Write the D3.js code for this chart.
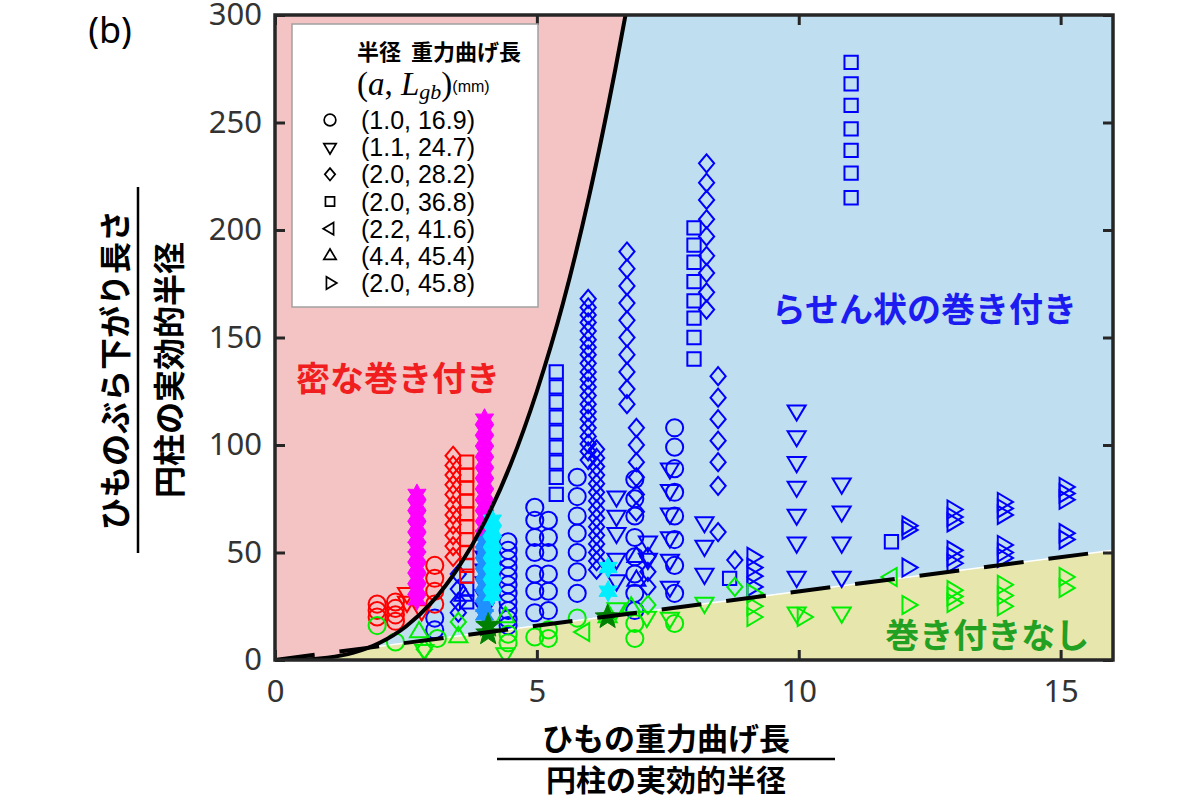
<!DOCTYPE html>
<html>
<head>
<meta charset="utf-8">
<script src="https://cdn.jsdelivr.net/npm/d3@7.9.0/dist/d3.min.js"></script>
<style>
  body { margin: 0; background: #fff; }
  svg { display: block; }
</style>
</head>
<body>
<svg id="chart" width="1200" height="800"></svg>
<script>
// ---- data ----
const xTicks = [0, 5, 10, 15];
const yTicks = [0, 50, 100, 150, 200, 250, 300];

// boundary curves
const tightCurve = [[0, 0], [0.5, 0.1], [1, 1], [1.5, 3.4], [2, 8], [2.5, 15.6], [3, 27], [3.5, 43],
  [4, 64], [4.5, 91], [5, 125], [5.5, 166], [6, 216], [6.5, 275], [6.8, 314]];
const noWrapLine = [[0, 0], [16, 51]];

// columns of points: [x, [y, y, ...]]
const redCircles = [[1.95, [26, 23, 20]], [2.3, [27, 24, 21, 18]], [3.05, [44, 38, 32, 26]]];
const redTriDown = [[2.52, [31, 27]], [2.8, [23]]];
const redDiamonds = [[3.4, [95, 90.5, 86, 81.5, 77, 72, 67.5, 63, 58, 53, 48]]];
const redSquares = [[3.66, [92, 86, 80, 74, 68, 62, 56, 50, 44, 39]]];
const magentaStars = [[2.71, [77, 72, 67, 62, 57, 52.5, 48, 43, 38, 33, 28]],
  [4.0, [112, 107, 102, 97, 92, 87, 82, 77, 72, 67, 62, 58]]];
const dodgerStars = [[4.0, [55, 50, 45, 40, 35, 30, 25, 21]]];
const cyanStars = [[4.15, [65, 60, 55, 50, 45, 40, 35, 30]], [6.36, [43, 32]]];
const darkGreenStars = [[4.07, [12.5, 16]], [6.35, [20]]];

const blueCircles = [[3.05, [19.5, 14]],
  [4.45, [55, 51, 47, 43, 39, 35, 31, 27, 23, 19, 16]],
  [4.96, [71, 65, 57, 50, 40, 32, 22]],
  [5.22, [65, 57, 50, 40, 32, 23]],
  [5.77, [85, 76, 67, 59, 50, 41, 31]],
  [6.87, [84, 75, 67, 57, 48, 40, 31, 23]],
  [7.63, [108, 99, 89, 78, 67, 56, 44, 31]]];
const blueTriDown = [[4.0, [48, 42, 36, 30, 24]],
  [6.52, [76, 67, 59, 47, 37]],
  [7.12, [55, 47]],
  [7.54, [89, 79, 68, 57, 46.5, 34]],
  [8.2, [64, 53, 40]],
  [9.96, [116, 104, 92, 80.5, 67.5, 54.5, 38.6]],
  [10.82, [82, 69, 54.5, 38.6]]];
const blueDiamonds = [[3.5, [40, 33, 27, 22]],
  [5.98, [168, 164, 160.5, 157, 153, 149, 145.5, 142, 138, 134, 130.5, 127, 123, 119, 115.5, 112, 108, 104, 100.5, 97, 93]],
  [6.14, [98, 94, 90, 86, 82, 78, 74, 70, 66, 62, 58, 54, 50, 46, 42]],
  [6.72, [190, 182, 174, 166, 158, 150, 142, 134, 126, 119]],
  [6.9, [108, 100, 92, 85, 77, 69]],
  [7.12, [48, 41, 34]],
  [8.24, [231, 222, 214, 205, 197, 188, 180, 171, 163]],
  [8.46, [132, 122, 112, 102, 92, 81, 59.5]],
  [8.78, [46.5]]];
const blueSquares = [[3.66, [33, 27]],
  [5.37, [134, 127, 120, 113, 106, 99, 92, 85, 77]],
  [8.0, [201, 193, 185, 176, 167, 159, 150, 140]],
  [8.68, [38]],
  [11.0, [278, 268, 258, 247, 237, 226.5, 215]],
  [11.77, [55]]];
const blueTriUp = [[6.9, [48, 37]], [3.6, [30]]];
const blueTriRight = [[9.12, [48, 43, 39, 34]],
  [12.08, [62.5, 60.5, 43]],
  [12.94, [70, 66.5, 64, 51, 48, 45]],
  [13.9, [73.5, 70.5, 67.5, 53.5, 50, 47.5]],
  [15.08, [80.5, 77.5, 74.5, 59, 56]]];

const greenCircles = [[1.95, [16]], [2.3, [8.4]], [3.1, [10]], [4.45, [8, 12]],
  [4.96, [10.7]], [5.22, [10, 14]], [5.77, [19.5]], [6.87, [17, 10]], [7.63, [17]]];
const greenTriDown = [[2.85, [4.6]], [4.4, [3]], [6.52, [24]], [7.1, [20]], [7.54, [19.5]],
  [8.2, [26.5]], [9.96, [22]], [10.82, [22]]];
const greenTriUp = [[2.75, [13]], [3.5, [10.7]], [4.4, [20]], [6.35, [20]], [6.8, [24.6]]];
const greenDiamonds = [[2.85, [5]], [3.5, [17.7]], [7.12, [25.6]], [8.78, [34]]];
const greenTriLeft = [[5.9, [13]], [11.77, [38.6]]];
const greenTriRight = [[9.12, [31, 25, 20]], [10.08, [20]], [12.08, [25.6]],
  [12.94, [32.5, 29.5, 26.5]], [13.9, [35, 30, 25]], [15.08, [38.6, 33.5]]];

const legendShapes = ['circle', 'triDown', 'diamond', 'square', 'triLeft', 'triUp', 'triRight'];
const legendLabels = ['(1.0, 16.9)', '(1.1, 24.7)', '(2.0, 28.2)', '(2.0, 36.8)',
  '(2.2, 41.6)', '(4.4, 45.4)', '(2.0, 45.8)'];

// ---- styling ----
const RED = '#ff0000', BLUE = '#0000ff', GREEN = '#00ee00';
const series = [
  { cols: blueCircles, shape: 'circle', color: BLUE },
  { cols: blueTriDown, shape: 'triDown', color: BLUE },
  { cols: blueDiamonds, shape: 'diamond', color: BLUE },
  { cols: blueSquares, shape: 'square', color: BLUE },
  { cols: blueTriUp, shape: 'triUp', color: BLUE },
  { cols: blueTriRight, shape: 'triRight', color: BLUE },
  { cols: redCircles, shape: 'circle', color: RED },
  { cols: redTriDown, shape: 'triDown', color: RED },
  { cols: redDiamonds, shape: 'diamond', color: RED },
  { cols: redSquares, shape: 'square', color: RED },
  { cols: greenCircles, shape: 'circle', color: GREEN },
  { cols: greenTriDown, shape: 'triDown', color: GREEN },
  { cols: greenTriUp, shape: 'triUp', color: GREEN },
  { cols: greenDiamonds, shape: 'diamond', color: GREEN },
  { cols: greenTriLeft, shape: 'triLeft', color: GREEN },
  { cols: greenTriRight, shape: 'triRight', color: GREEN },
  { cols: magentaStars, shape: 'hexagram', color: '#ff00ff', filled: true, r: 10.5 },
  { cols: dodgerStars, shape: 'hexagram', color: '#1e90ff', filled: true, r: 10.5 },
  { cols: cyanStars, shape: 'hexagram', color: '#00eeff', filled: true, r: 10.5 },
  { cols: darkGreenStars, shape: 'pentagram', color: '#008000', filled: true, r: 13 }
];

const jp = '"Noto Sans CJK JP", "Noto Sans", sans-serif';
const svg = d3.select('#chart');
const x = d3.scaleLinear().domain([0, 16]).range([275, 1113]);
const y = d3.scaleLinear().domain([0, 300]).range([660, 15]);

function shapePath(name, r) {
  const p = d3.path();
  const poly = (pts) => {
    pts.forEach(([a, b], i) => (i ? p.lineTo(a * r, b * r) : p.moveTo(a * r, b * r)));
    p.closePath();
  };
  if (name === 'circle') { p.arc(0, 0, r * 0.9, 0, 2 * Math.PI); p.closePath(); }
  else if (name === 'square') poly([[-0.7, -0.7], [0.7, -0.7], [0.7, 0.7], [-0.7, 0.7]]);
  else if (name === 'diamond') poly([[0, -0.95], [0.8, 0], [0, 0.95], [-0.8, 0]]);
  else if (name === 'triDown') poly([[-0.95, -0.55], [0.95, -0.55], [0, 1.05]]);
  else if (name === 'triUp') poly([[-0.95, 0.55], [0.95, 0.55], [0, -1.05]]);
  else if (name === 'triLeft') poly([[0.55, -0.95], [0.55, 0.95], [-1.05, 0]]);
  else if (name === 'triRight') poly([[-0.55, -0.95], [-0.55, 0.95], [1.05, 0]]);
  else if (name === 'hexagram' || name === 'pentagram') {
    const n = name === 'hexagram' ? 6 : 5;
    const inner = name === 'hexagram' ? 0.55 : 0.42;
    const pts = d3.range(n * 2).map((i) => {
      const a = -Math.PI / 2 + (i * Math.PI) / n;
      const rr = i % 2 ? inner : 1;
      return [Math.cos(a) * rr, Math.sin(a) * rr];
    });
    poly(pts);
  }
  return p.toString();
}

const flat = (cols) => cols.flatMap(([cx, ys]) => ys.map((v) => [cx, v]));

// ---- plot background regions ----
svg.append('defs').append('clipPath').attr('id', 'plotclip')
  .append('rect').attr('x', x(0)).attr('y', y(300)).attr('width', x(16) - x(0)).attr('height', y(0) - y(300));

const bg = svg.append('g').attr('clip-path', 'url(#plotclip)');
bg.append('rect').attr('x', x(0)).attr('y', y(300)).attr('width', x(16) - x(0))
  .attr('height', y(0) - y(300)).attr('fill', '#bfdef0');

const lineGen = d3.line().x((d) => x(d[0])).y((d) => y(d[1]));
bg.append('path')
  .attr('d', lineGen(noWrapLine) + `L${x(16)},${y(0)}L${x(0)},${y(0)}Z`)
  .attr('fill', '#e6e6ad');
bg.append('path').attr('d', lineGen(noWrapLine)).attr('fill', 'none')
  .attr('stroke', '#fff').attr('stroke-width', 1.5);

const curveGen = d3.line().x((d) => x(d[0])).y((d) => y(d[1])).curve(d3.curveMonotoneX);
bg.append('path')
  .attr('d', curveGen(tightCurve) + `L${x(0)},${y(314)}Z`)
  .attr('fill', '#f4c4c4');

// ---- markers ----
const marks = svg.append('g').attr('clip-path', 'url(#plotclip)');
series.forEach((s) => {
  const d = shapePath(s.shape, s.r || 9.5);
  marks.append('g').selectAll('path').data(flat(s.cols)).join('path')
    .attr('transform', (p) => `translate(${x(p[0])},${y(p[1])})`)
    .attr('d', d)
    .attr('fill', s.filled ? s.color : 'none')
    .attr('stroke', s.color)
    .attr('stroke-width', s.filled ? 1 : 2);
});

// ---- boundary lines ----
const lines = svg.append('g').attr('clip-path', 'url(#plotclip)');
lines.append('path').attr('d', lineGen(noWrapLine)).attr('fill', 'none')
  .attr('stroke', '#000').attr('stroke-width', 4).attr('stroke-dasharray', '40,25');
lines.append('path').attr('d', curveGen(tightCurve)).attr('fill', 'none')
  .attr('stroke', '#000').attr('stroke-width', 4);

// ---- region labels ----
const regionLabels = [
  { text: '密な巻き付き', at: [2.35, 132], color: '#f01e1e' },
  { text: 'らせん状の巻き付き', at: [12.4, 164], color: '#1c1cf0' },
  { text: '巻き付きなし', at: [13.6, 12.5], color: '#22a022' }
];
svg.append('g').selectAll('text').data(regionLabels).join('text')
  .attr('x', (d) => x(d.at[0])).attr('y', (d) => y(d.at[1]))
  .attr('text-anchor', 'middle').attr('dominant-baseline', 'central')
  .attr('fill', (d) => d.color).attr('font-family', jp).attr('font-weight', 700)
  .attr('font-size', 34).text((d) => d.text);

// ---- axes ----
const tickFont = (g) => g.selectAll('text').attr('font-family', '"Noto Sans", sans-serif')
  .attr('font-size', 31).attr('fill', '#333');
const tickLines = (g) => {
  g.select('.domain').remove();
  g.selectAll('.tick line').attr('stroke', '#262626').attr('stroke-width', 3);
};
svg.append('g').attr('transform', `translate(0,${y(0)})`)
  .call(d3.axisBottom(x).tickValues(xTicks).tickSize(-10).tickPadding(20))
  .call(tickLines).call(tickFont);
svg.append('g').attr('transform', `translate(0,${y(300)})`)
  .call(d3.axisTop(x).tickValues(xTicks).tickSize(-10).tickFormat(''))
  .call(tickLines);
svg.append('g').attr('transform', `translate(${x(0)},0)`)
  .call(d3.axisLeft(y).tickValues(yTicks).tickSize(-10).tickPadding(13))
  .call(tickLines).call(tickFont);
svg.append('g').attr('transform', `translate(${x(16)},0)`)
  .call(d3.axisRight(y).tickValues(yTicks).tickSize(-10).tickFormat(''))
  .call(tickLines);
svg.append('rect').attr('x', x(0)).attr('y', y(300)).attr('width', x(16) - x(0))
  .attr('height', y(0) - y(300)).attr('fill', 'none').attr('stroke', '#262626').attr('stroke-width', 3.5);

// ---- legend ----
const lg = svg.append('g');
lg.append('rect').attr('x', 292).attr('y', 24).attr('width', 246).attr('height', 283)
  .attr('fill', '#fff').attr('stroke', '#a0a0a0').attr('stroke-width', 1.5);
lg.append('text').attr('x', 357).attr('y', 60).attr('font-family', jp).attr('font-weight', 700)
  .attr('font-size', 22).attr('fill', '#000').attr('xml:space', 'preserve').text('半径  重力曲げ長');
const math = lg.append('text').attr('x', 357).attr('y', 95)
  .attr('font-family', '"Liberation Serif", "DejaVu Serif", serif').attr('font-size', 33).attr('fill', '#000');
math.append('tspan').text('(');
math.append('tspan').attr('font-style', 'italic').text('a');
math.append('tspan').text(', ');
math.append('tspan').attr('font-style', 'italic').text('L');
math.append('tspan').attr('font-style', 'italic').attr('font-size', 22).attr('dy', 4).text('gb');
math.append('tspan').attr('dy', -4).text(')');
math.append('tspan').attr('font-family', '"Liberation Sans", Arial, sans-serif').attr('font-size', 16)
  .attr('dy', -3).text('(mm)');

const rowY = d3.scaleLinear().domain([0, 6]).range([120, 283]);
legendShapes.forEach((sh, i) => {
  lg.append('path').attr('transform', `translate(330,${rowY(i)})`)
    .attr('d', shapePath(sh, 6.5)).attr('fill', 'none').attr('stroke', '#000').attr('stroke-width', 1.7);
  lg.append('text').attr('x', 361).attr('y', rowY(i)).attr('dy', '0.36em')
    .attr('font-family', '"Liberation Sans", Arial, sans-serif').attr('font-size', 25)
    .attr('fill', '#000').text(legendLabels[i]);
});

// ---- axis titles ----
const xt = svg.append('g');
xt.append('text').attr('x', 666).attr('y', 736).attr('dominant-baseline', 'central')
  .attr('text-anchor', 'middle').attr('font-family', jp).attr('font-weight', 700)
  .attr('font-size', 31).text('ひもの重力曲げ長');
xt.append('line').attr('x1', 497).attr('x2', 835).attr('y1', 759).attr('y2', 759)
  .attr('stroke', '#000').attr('stroke-width', 2.5);
xt.append('text').attr('x', 666).attr('y', 778).attr('dominant-baseline', 'central')
  .attr('text-anchor', 'middle').attr('font-family', jp).attr('font-weight', 700)
  .attr('font-size', 30).text('円柱の実効的半径');

const yt = svg.append('g');
yt.append('text').attr('transform', 'translate(113,370) rotate(-90)').attr('dominant-baseline', 'central')
  .attr('text-anchor', 'middle').attr('font-family', jp).attr('font-weight', 700)
  .attr('font-size', 32).text('ひものぶら下がり長さ');
yt.append('line').attr('x1', 138).attr('x2', 138).attr('y1', 187).attr('y2', 553)
  .attr('stroke', '#000').attr('stroke-width', 2.5);
yt.append('text').attr('transform', 'translate(167,370) rotate(-90)').attr('dominant-baseline', 'central')
  .attr('text-anchor', 'middle').attr('font-family', jp).attr('font-weight', 700)
  .attr('font-size', 32).text('円柱の実効的半径');

svg.append('text').attr('x', 110).attr('y', 29).attr('dominant-baseline', 'central')
  .attr('text-anchor', 'middle').attr('font-family', '"Noto Sans", sans-serif')
  .attr('font-size', 36).attr('fill', '#000').text('(b)');
</script>
</body>
</html>
